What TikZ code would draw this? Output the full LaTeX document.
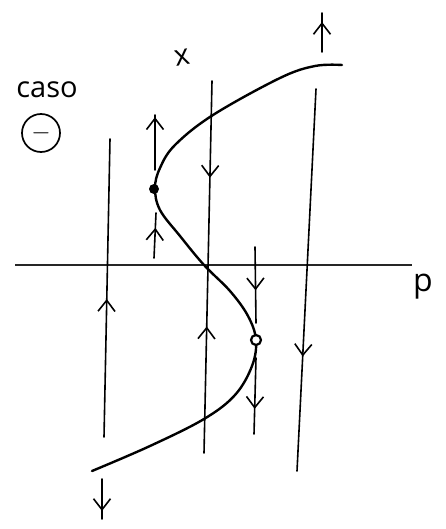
\documentclass[tikz,border=0pt]{standalone}
\usepackage{fontspec}
\setmainfont{Open Sans}
\usetikzlibrary{arrows.meta,decorations.markings}
\tikzset{
  flow/.style={line width=1.6pt, line cap=round},
  curvestyle/.style={line width=2.4pt, line cap=round},
  axisstyle/.style={line width=2pt, black!85},
  fwd/.style={postaction={decorate,decoration={markings,
      mark=at position #1 with {\arrow{Straight Barb[length=11pt,width=17pt,line width=1.6pt]}}}}},
  bwd/.style={postaction={decorate,decoration={markings,
      mark=at position #1 with {\arrowreversed{Straight Barb[length=11pt,width=17pt,line width=1.6pt]}}}}},
  lbl/.style={inner sep=0pt, font=\fontsize{29}{30}\selectfont},
}
\begin{document}
\begin{tikzpicture}[x=1pt,y=-1pt]
\useasboundingbox (0,0) rectangle (446,529);
% axis
\coordinate (axL) at (15,265);
\coordinate (axR) at (412,265);
\draw[axisstyle] (axL) -- (axR);
% labels
\node[lbl] (caso) at (47,90) {caso};
\node[draw, circle, line width=1.7pt, minimum size=38pt, inner sep=0pt, font=\fontsize{26}{26}\selectfont] (minus) at (41,133) {$-$};
\node[lbl, rotate=10] (xlab) at (182,58) {x};
\node[lbl, font=\fontsize{32}{32}\selectfont] (plab) at (423,287) {p};
% vertical flow lines
\coordinate (a1) at (104,437); \coordinate (a2) at (110,139);
\draw[flow, fwd=0.463] (a1) -- (a2);
\coordinate (b1) at (212,81); \coordinate (b2) at (204,453);
\draw[flow, fwd=0.26, bwd=0.66] (b1) -- (b2);
\coordinate (c1) at (155,170); \coordinate (c2) at (155,115);
\draw[flow, fwd=0.96] (c1) -- (c2);
\coordinate (c3) at (154,258); \coordinate (c4) at (156,213);
\draw[flow, fwd=0.67] (c3) -- (c4);
\coordinate (d1) at (255,247); \coordinate (d2) at (256,323);
\draw[flow, fwd=0.57] (d1) -- (d2);
\coordinate (d3) at (256,358); \coordinate (d4) at (254,434);
\draw[flow, fwd=0.67] (d3) -- (d4);
\coordinate (e1) at (316,89); \coordinate (e2) at (297,471);
\draw[flow, fwd=0.70] (e1) -- (e2);
\coordinate (f1) at (322,52); \coordinate (f2) at (322,13);
\draw[flow, fwd=0.77] (f1) -- (f2);
\coordinate (g1) at (102,479); \coordinate (g2) at (102,519);
\draw[flow, fwd=0.8] (g1) -- (g2);
% equilibrium curve
\draw[curvestyle] plot[smooth, tension=0.6] coordinates {
  (342,65) (315,66) (280,78) (213,115) (175,145) (160,168) (155,188)
  (160,210) (180,236) (204,265) (230,291) (248,316) (256,340)
  (252,366) (235,395) (204,419) (150,446) (92,471)};
% bifurcation points
\node[circle, fill=black, minimum size=10pt, inner sep=0pt] (sn1) at (154,189) {};
\node[circle, draw=black, line width=2.2pt, fill=white, minimum size=10pt, inner sep=0pt] (sn2) at (256,340) {};
\end{tikzpicture}
\end{document}
